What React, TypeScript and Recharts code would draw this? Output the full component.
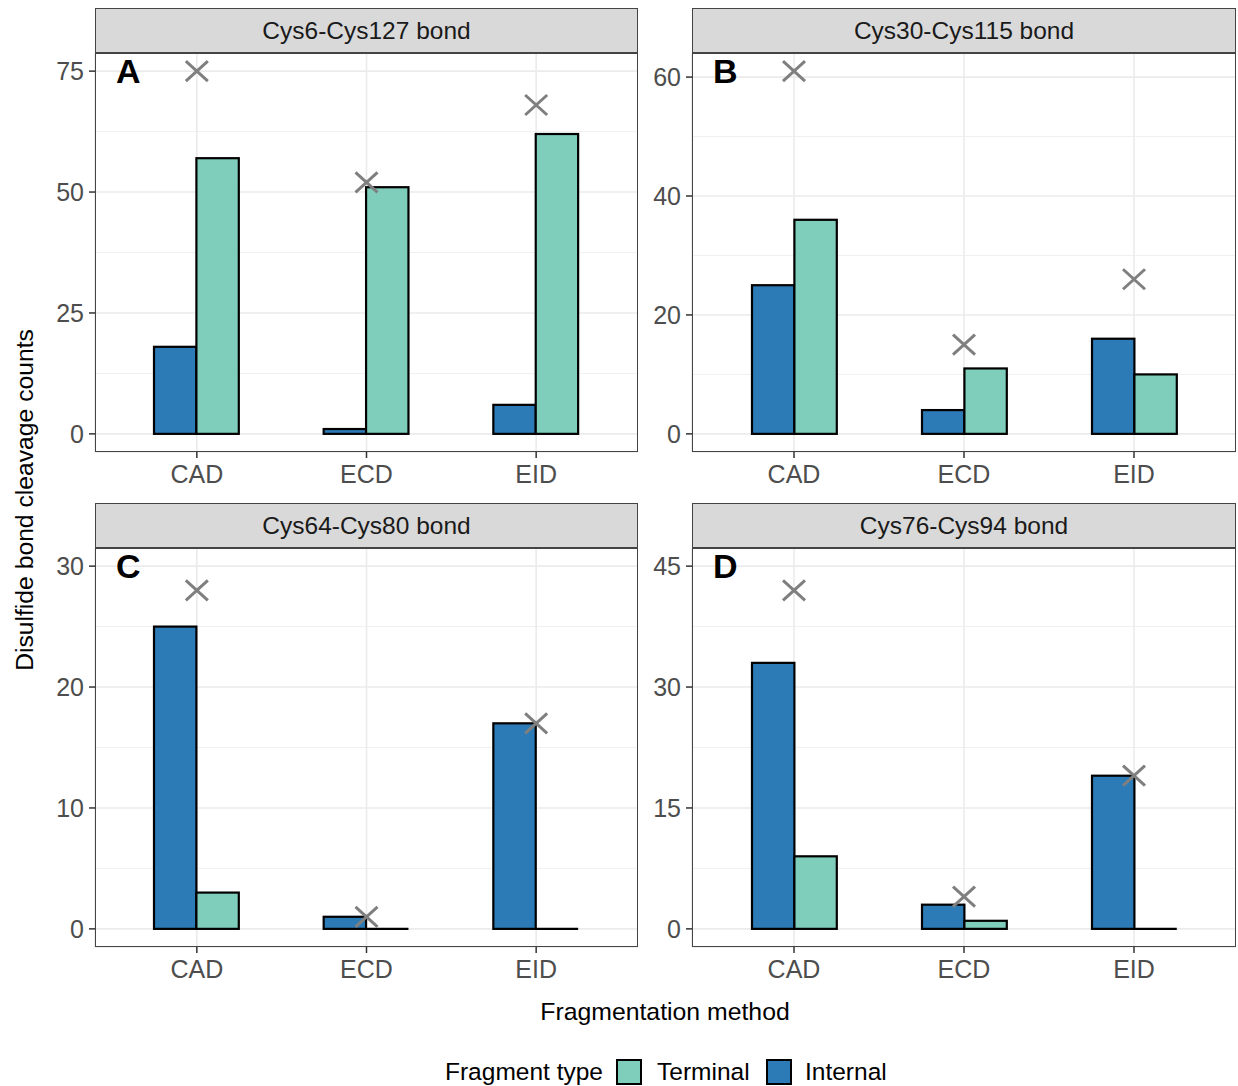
import React from 'react';
import { ComposedChart, Bar, Line, XAxis, YAxis, CartesianGrid } from 'recharts';

// ---- data ----
const methods = ['CAD', 'ECD', 'EID'];
const bondTitles = ['Cys6-Cys127 bond', 'Cys30-Cys115 bond', 'Cys64-Cys80 bond', 'Cys76-Cys94 bond'];
const panelLetters = ['A', 'B', 'C', 'D'];

const internalA = [18, 1, 6];
const terminalA = [57, 51, 62];
const totalA = [75, 52, 68];

const internalB = [25, 4, 16];
const terminalB = [36, 11, 10];
const totalB = [61, 15, 26];

const internalC = [25, 1, 17];
const terminalC = [3, 0, 0];
const totalC = [28, 1, 17];

const internalD = [33, 3, 19];
const terminalD = [9, 1, 0];
const totalD = [42, 4, 19];

const ticksA = [0, 25, 50, 75];
const ticksB = [0, 20, 40, 60];
const ticksC = [0, 10, 20, 30];
const ticksD = [0, 15, 30, 45];

const minorA = [12.5, 37.5, 62.5];
const minorB = [10, 30, 50];
const minorC = [5, 15, 25];
const minorD = [7.5, 22.5, 37.5];

const domainA: [number, number] = [-3.75, 78.75];
const domainB: [number, number] = [-3.05, 64.05];
const domainC: [number, number] = [-1.5, 31.5];
const domainD: [number, number] = [-2.25, 47.25];

const legendTitle = 'Fragment type';
const seriesNames = ['Terminal', 'Internal'];

// ---- style ----
const FONT = '"Liberation Sans", Arial, Helvetica, sans-serif';
const INTERNAL_COLOR = '#2C7BB6';
const TERMINAL_COLOR = '#7FCDBB';
const X_COLOR = '#7F7F7F';

function buildRows(internal: number[], terminal: number[], total: number[]) {
  return methods.map((m, i) => ({ method: m, Internal: internal[i], Terminal: terminal[i], total: total[i] }));
}

const panels = [
  { data: buildRows(internalA, terminalA, totalA), ticks: ticksA, minor: minorA, domain: domainA, left: 95, top: 53, w: 543 },
  { data: buildRows(internalB, terminalB, totalB), ticks: ticksB, minor: minorB, domain: domainB, left: 692, top: 53, w: 544 },
  { data: buildRows(internalC, terminalC, totalC), ticks: ticksC, minor: minorC, domain: domainC, left: 95, top: 548, w: 543 },
  { data: buildRows(internalD, terminalD, totalD), ticks: ticksD, minor: minorD, domain: domainD, left: 692, top: 548, w: 544 },
];

const PLOT_H = 399;
const STRIP_H = 45;
const YAXIS_W = 95;
const XAXIS_H = 50;

const BarShape = (props: any) => {
  const { x, y, width, height, fill } = props;
  if (x == null || y == null) return null;
  if (!height || Math.abs(height) < 1) {
    return <path d={`M${x},${y}H${x + width}`} stroke="#000" strokeWidth={2.2} fill="none" />;
  }
  return <rect x={x} y={y} width={width} height={height} fill={fill} stroke="#000" strokeWidth={2.2} />;
};

const XMark = (props: any) => {
  const { cx, cy } = props;
  if (cx == null || cy == null) return <g />;
  const rx = 11;
  const ry = 10;
  return (
    <path
      d={`M${cx - rx},${cy - ry}L${cx + rx},${cy + ry}M${cx - rx},${cy + ry}L${cx + rx},${cy - ry}`}
      stroke={X_COLOR}
      strokeWidth={3}
      fill="none"
    />
  );
};

function Panel({ p, idx }: { p: any; idx: number }) {
  const chartW = YAXIS_W + p.w;
  const chartH = PLOT_H + XAXIS_H;
  return (
    <>
      <div
        style={{
          position: 'absolute',
          left: p.left,
          top: p.top - STRIP_H,
          width: p.w,
          height: STRIP_H,
          background: '#D9D9D9',
          border: '1.5px solid #444',
          boxSizing: 'border-box',
          display: 'flex',
          alignItems: 'center',
          justifyContent: 'center',
          fontSize: 24.5,
          color: '#1A1A1A',
          fontFamily: FONT,
        }}
      >
        {bondTitles[idx]}
      </div>
      <div style={{ position: 'absolute', left: p.left - YAXIS_W, top: p.top }}>
        <ComposedChart
          width={chartW}
          height={chartH}
          data={p.data}
          margin={{ top: 0, right: 0, bottom: 0, left: 0 }}
          barGap={0}
          barSize={42.4}
        >
          <CartesianGrid horizontalValues={p.minor} vertical={false} stroke="#F0F0F0" strokeWidth={1} />
          <CartesianGrid stroke="#EBEBEB" strokeWidth={1.6} />
          <XAxis
            dataKey="method"
            type="category"
            padding={{ left: 17, right: 17 }}
            axisLine={false}
            tickLine={{ stroke: '#333', strokeWidth: 1.5 }}
            tickSize={6}
            tickMargin={7}
            height={XAXIS_H}
            tick={{ fill: '#4D4D4D', fontSize: 25, fontFamily: FONT }}
            interval={0}
          />
          <YAxis
            type="number"
            domain={p.domain}
            ticks={p.ticks}
            allowDataOverflow
            axisLine={false}
            tickLine={{ stroke: '#333', strokeWidth: 1.5 }}
            tickSize={6}
            tickMargin={5}
            width={YAXIS_W}
            tick={{ fill: '#4D4D4D', fontSize: 25, fontFamily: FONT }}
            interval={0}
          />
          <Bar dataKey="Internal" fill={INTERNAL_COLOR} shape={BarShape} isAnimationActive={false} />
          <Bar dataKey="Terminal" fill={TERMINAL_COLOR} shape={BarShape} isAnimationActive={false} />
          <Line
            dataKey="total"
            stroke="none"
            strokeWidth={0}
            dot={XMark}
            activeDot={false}
            isAnimationActive={false}
          />
        </ComposedChart>
      </div>
      <div
        style={{
          position: 'absolute',
          left: p.left,
          top: p.top,
          width: p.w,
          height: PLOT_H,
          border: '1.5px solid #444',
          boxSizing: 'border-box',
          pointerEvents: 'none',
        }}
      />
      <div
        style={{
          position: 'absolute',
          left: p.left + 21,
          top: p.top + 18 - 20,
          height: 40,
          lineHeight: '40px',
          fontSize: 34,
          fontWeight: 'bold',
          color: '#000',
          fontFamily: FONT,
        }}
      >
        {panelLetters[idx]}
      </div>
    </>
  );
}

const legendText: React.CSSProperties = {
  position: 'absolute',
  top: 1072,
  transform: 'translateY(-50%)',
  fontSize: 24.5,
  color: '#000',
  whiteSpace: 'nowrap',
  lineHeight: '30px',
};

const legendKey: React.CSSProperties = {
  position: 'absolute',
  top: 1059,
  width: 26,
  height: 26,
  boxSizing: 'border-box',
  border: '2px solid #000',
};

export default function App() {
  return (
    <div
      style={{
        position: 'absolute',
        left: 0,
        top: 0,
        width: 1238,
        height: 1086,
        background: '#fff',
        fontFamily: FONT,
        overflow: 'hidden',
      }}
    >
      {panels.map((p, i) => (
        <Panel key={i} p={p} idx={i} />
      ))}
      <div
        style={{
          position: 'absolute',
          left: 25,
          top: 500,
          transform: 'translate(-50%, -50%) rotate(-90deg)',
          whiteSpace: 'nowrap',
          fontSize: 24.7,
          color: '#000',
        }}
      >
        Disulfide bond cleavage counts
      </div>
      <div
        style={{
          position: 'absolute',
          left: 665,
          top: 1012,
          transform: 'translate(-50%, -50%)',
          whiteSpace: 'nowrap',
          fontSize: 24.8,
          color: '#000',
        }}
      >
        Fragmentation method
      </div>
      <div style={{ ...legendText, left: 445 }}>{legendTitle}</div>
      <div style={{ ...legendKey, left: 616, background: TERMINAL_COLOR }} />
      <div style={{ ...legendText, left: 657 }}>{seriesNames[0]}</div>
      <div style={{ ...legendKey, left: 766, background: INTERNAL_COLOR }} />
      <div style={{ ...legendText, left: 805 }}>{seriesNames[1]}</div>
    </div>
  );
}
